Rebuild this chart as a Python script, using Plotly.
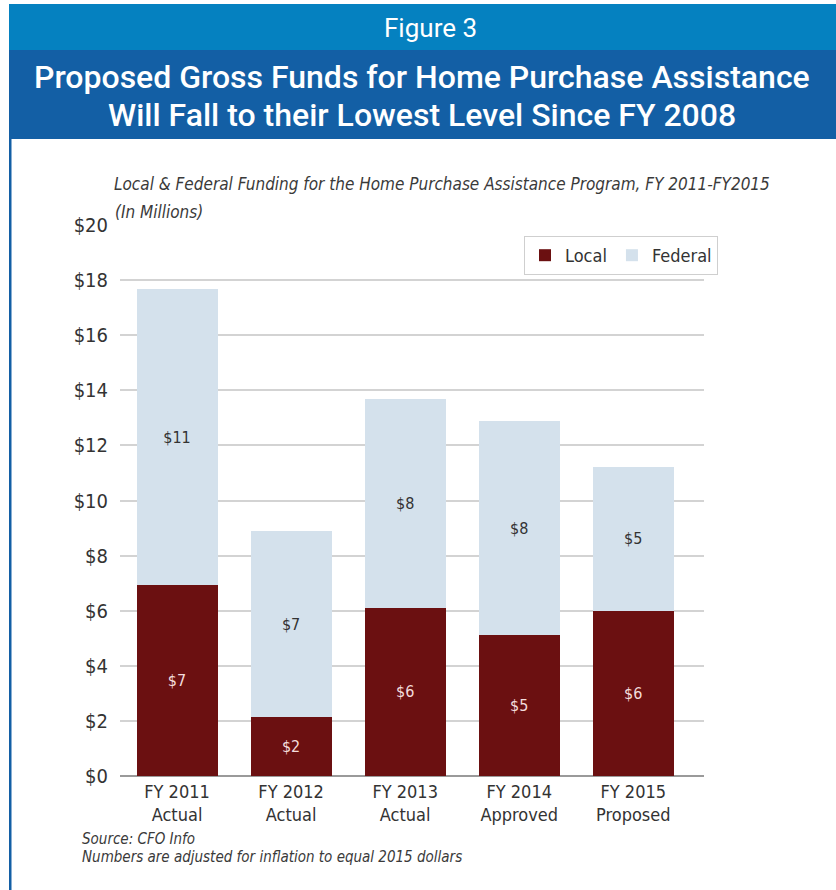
import plotly.graph_objects as go

# Funding data, FY 2011 - FY 2015 (millions of 2015 dollars)
years = ["FY 2011", "FY 2012", "FY 2013", "FY 2014", "FY 2015"]
stages = ["Actual", "Actual", "Actual", "Approved", "Proposed"]
local_funds = [6.93, 2.14, 6.10, 5.13, 6.00]
federal_funds = [10.74, 6.75, 7.60, 7.74, 5.22]
y_ticks = [0, 2, 4, 6, 8, 10, 12, 14, 16, 18, 20]

LOCAL_COLOR = "#6b1011"
FEDERAL_COLOR = "#d4e1ec"
LIGHT_BLUE = "#0581c0"
DARK_BLUE = "#135fa5"
NARROW = "DejaVu Sans Condensed, Liberation Sans Narrow, Arial Narrow, sans-serif"
HEAD = "Roboto, Liberation Sans, sans-serif"

W, H = 836, 890
L, R, T, B = 120, 132, 225, 114
PW, PH = W - L - R, H - T - B


def px(x):
    return (x - L) / PW


def py(y):
    return (H - B - y) / PH


x_idx = list(range(len(years)))
cat_text = [f"{y}<br>{s}" for y, s in zip(years, stages)]

fig = go.Figure()
fig.add_trace(go.Bar(
    x=x_idx, y=local_funds, name="Local",
    marker=dict(color=LOCAL_COLOR, line=dict(width=0)),
    texttemplate="$%{y:.0f}", textposition="inside",
    insidetextanchor="middle", textangle=0,
    textfont=dict(family=NARROW, size=16, color="#f3dcdc"),
))
fig.add_trace(go.Bar(
    x=x_idx, y=federal_funds, name="Federal",
    marker=dict(color=FEDERAL_COLOR, line=dict(width=0)),
    texttemplate="$%{y:.0f}", textposition="inside",
    insidetextanchor="middle", textangle=0,
    textfont=dict(family=NARROW, size=16, color="#333333"),
))

fig.update_layout(
    width=W, height=H,
    margin=dict(l=L, r=R, t=T, b=B, autoexpand=False),
    paper_bgcolor="white", plot_bgcolor="white",
    barmode="stack", bargap=0.29,
    showlegend=True,
    legend=dict(
        orientation="h", x=px(718), xanchor="right", y=py(236), yanchor="top",
        bgcolor="white", bordercolor="#cfcfcf", borderwidth=1,
        font=dict(family=NARROW, size=18, color="#333333"),
        traceorder="normal", itemwidth=30,
    ),
    xaxis=dict(
        range=[-0.5, 4.62], tickmode="array", tickvals=x_idx, ticktext=cat_text,
        showgrid=False, zeroline=False, showline=False, ticks="",
        ticklabelstandoff=3,
        tickfont=dict(family=NARROW, size=18, color="#333333"),
    ),
    yaxis=dict(
        range=[0, 20], tickmode="array", tickvals=y_ticks,
        ticktext=[f"${v}" for v in y_ticks],
        showgrid=True, gridcolor="#d3d3d3", gridwidth=1.5,
        zeroline=True, zerolinecolor="#9a9a9a", zerolinewidth=2,
        showline=False, ticks="", ticklabelstandoff=11,
        tickfont=dict(family=NARROW, size=20, color="#333333"),
    ),
    font=dict(family=NARROW),
)

# Header banners and left rule
shapes = [
    dict(type="rect", xref="paper", yref="paper", x0=px(9), x1=px(836), y0=py(50), y1=py(4),
         fillcolor=LIGHT_BLUE, line=dict(width=0), layer="below"),
    dict(type="rect", xref="paper", yref="paper", x0=px(9), x1=px(836), y0=py(139), y1=py(50),
         fillcolor=DARK_BLUE, line=dict(width=0), layer="below"),
    dict(type="rect", xref="paper", yref="paper", x0=px(9), x1=px(11.5), y0=py(890), y1=py(139),
         fillcolor=DARK_BLUE, line=dict(width=0), layer="below"),
]
fig.update_layout(shapes=shapes)

annotations = [
    dict(text="Figure 3", x=px(430), y=py(28), xanchor="center", yanchor="middle",
         font=dict(family=HEAD, size=26, color="white", weight=400)),
    dict(text="Proposed Gross Funds for Home Purchase Assistance", x=px(422), y=py(77),
         xanchor="center", yanchor="middle",
         font=dict(family=HEAD, size=32, color="white", weight=500)),
    dict(text="Will Fall to their Lowest Level Since FY 2008", x=px(422), y=py(115),
         xanchor="center", yanchor="middle",
         font=dict(family=HEAD, size=32, color="white", weight=500)),
    dict(text="<i>Local & Federal Funding for the Home Purchase Assistance Program, FY 2011-FY2015</i>",
         x=px(112), y=py(184), xanchor="left", yanchor="middle",
         font=dict(family=NARROW, size=17, color="#3a3a3a")),
    dict(text="<i>(In Millions)</i>", x=px(113), y=py(212), xanchor="left", yanchor="middle",
         font=dict(family=NARROW, size=17, color="#3a3a3a")),
    dict(text="<i>Source: CFO Info</i>", x=px(80), y=py(839), xanchor="left", yanchor="middle",
         font=dict(family=NARROW, size=15, color="#3a3a3a")),
    dict(text="<i>Numbers are adjusted for inflation to equal 2015 dollars</i>", x=px(80), y=py(857),
         xanchor="left", yanchor="middle",
         font=dict(family=NARROW, size=15, color="#3a3a3a")),
]
for a in annotations:
    a.update(xref="paper", yref="paper", showarrow=False)
fig.update_layout(annotations=annotations)

fig.write_html("out.html")
